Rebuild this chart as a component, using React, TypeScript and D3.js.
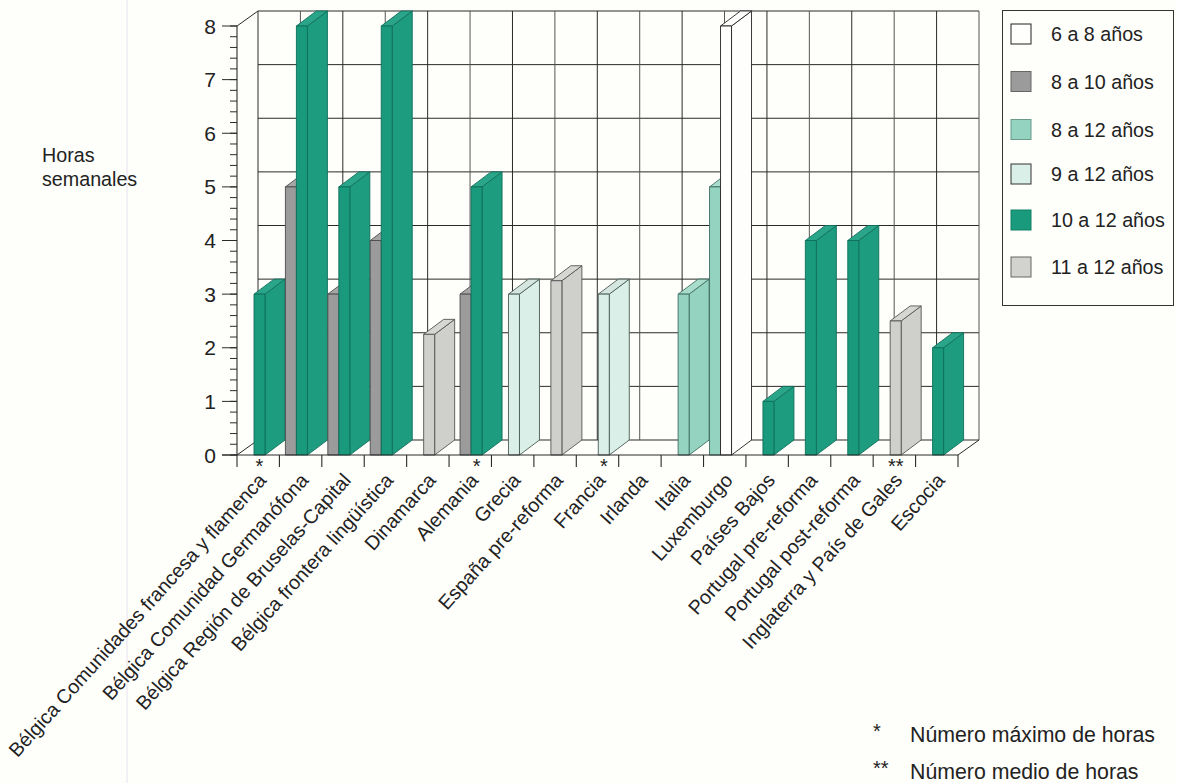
import React from "react";
import * as d3 from "d3";

// Categories along the floor of the chart
const regions = [
  "Bélgica Comunidades francesa y flamenca",
  "Bélgica Comunidad Germanófona",
  "Bélgica Región de Bruselas-Capital",
  "Bélgica frontera lingüística",
  "Dinamarca",
  "Alemania",
  "Grecia",
  "España pre-reforma",
  "Francia",
  "Irlanda",
  "Italia",
  "Luxemburgo",
  "Países Bajos",
  "Portugal pre-reforma",
  "Portugal post-reforma",
  "Inglaterra y País de Gales",
  "Escocia",
];

// Weekly hours per age group; null means the group has no bar in that region
const ages6to8 = [null, null, null, null, null, null, null, null, null, null, null, 8, null, null, null, null, null];
const ages8to10 = [null, 5, 3, 4, null, 3, null, null, null, null, null, null, null, null, null, null, null];
const ages8to12 = [null, null, null, null, null, null, null, null, null, null, 3, 5, null, null, null, null, null];
const ages9to12 = [null, null, null, null, null, null, 3, null, 3, null, null, null, null, null, null, null, null];
const ages10to12 = [3, 8, 5, 8, null, 5, null, null, null, null, null, null, 1, 4, 4, null, 2];
const ages11to12 = [null, null, null, null, 2.25, null, null, 3.25, null, null, null, null, null, null, null, 2.5, null];

const hourTicks = [0, 1, 2, 3, 4, 5, 6, 7, 8];
const minorTicks = d3.range(0, 8.01, 0.2);

// Footnote marks attached to some regions
const footMarks: Record<string, string> = {
  "Bélgica Comunidades francesa y flamenca": "*",
  Alemania: "*",
  Francia: "*",
  "Inglaterra y País de Gales": "**",
};
const footnotes = [
  ["*", "Número máximo de horas"],
  ["**", "Número medio de horas"],
];

type Look = { front: string; side: string; top: string; edge: string };

const series: { label: string; values: (number | null)[]; look: Look; swatch: string; swatchEdge: string }[] = [
  { label: "6 a 8 años", values: ages6to8, look: { front: "#fefefc", side: "#fefefc", top: "#fefefc", edge: "#222222" }, swatch: "#fefefc", swatchEdge: "#222222" },
  { label: "8 a 10 años", values: ages8to10, look: { front: "#9b9b9b", side: "#8f8f8f", top: "#a6a6a6", edge: "#4c4c4c" }, swatch: "#9b9b9b", swatchEdge: "#666666" },
  { label: "8 a 12 años", values: ages8to12, look: { front: "#93d3c0", side: "#93d3c0", top: "#a8dccb", edge: "#3f6e62" }, swatch: "#93d3c0", swatchEdge: "#6a9a8c" },
  { label: "9 a 12 años", values: ages9to12, look: { front: "#d9efe7", side: "#d9efe7", top: "#d4e6df", edge: "#4a5a55" }, swatch: "#d9efe7", swatchEdge: "#333333" },
  { label: "10 a 12 años", values: ages10to12, look: { front: "#199a7c", side: "#1e9c80", top: "#2aa58a", edge: "#0e6f5a" }, swatch: "#199a7c", swatchEdge: "#118066" },
  { label: "11 a 12 años", values: ages11to12, look: { front: "#cfd0cc", side: "#cfd0cc", top: "#d6d7d3", edge: "#555555" }, swatch: "#d2d3cf", swatchEdge: "#666666" },
];

const ink = "#2a2a2a";
const paper = "#fefefb";
const fontFamily = "'Liberation Sans', Arial, sans-serif";
const textSize = 19.7;

// Oblique projection of the chart box
const depthX = 21;
const depthY = -15;

const xBand = d3.scaleBand<string>().domain(regions).range([237, 958]);
const yHours = d3.scaleLinear().domain([0, 8]).range([455, 26]);
const polygon = d3.line<[number, number]>().curve(d3.curveLinearClosed);

// Slots inside a band: one bar sits at the main slot, a companion bar just left of it
const mainSlot = 17;
const companionSlot = 6;
const barWidth = 11;
const shiftedRegions = new Set(["Alemania", "Francia"]);

function Bar({ x, value, look }: { x: number; value: number; look: Look }) {
  const yTop = yHours(value);
  const yBase = yHours(0);
  const right = x + barWidth;
  const line = { stroke: look.edge, strokeWidth: 0.9, strokeLinejoin: "round" as const };
  return (
    <g>
      <path
        d={polygon([[right, yTop], [right + depthX - 1, yTop + depthY], [right + depthX - 1, yBase + depthY], [right, yBase]])!}
        fill={look.side}
        {...line}
      />
      <path
        d={polygon([[x, yTop], [x + depthX - 1, yTop + depthY], [right + depthX - 1, yTop + depthY], [right, yTop]])!}
        fill={look.top}
        {...line}
      />
      <rect x={x} y={yTop} width={barWidth} height={yBase - yTop} fill={look.front} {...line} />
    </g>
  );
}

export default function App() {
  const edges = [...regions.map((r) => xBand(r)!), xBand.range()[1]];
  const [x0, x1] = xBand.range() as [number, number];
  const yBase = yHours(0);
  const yTop = yHours(8);

  return (
    <svg
      width={1177}
      height={783}
      viewBox="0 0 1177 783"
      style={{ position: "absolute", left: 0, top: 0, background: paper }}
      fontFamily={fontFamily}
      fill="#222222"
    >
      {/* Faint vertical fold of the page */}
      <line x1={127} x2={127} y1={0} y2={783} stroke="#e6e2ef" strokeWidth={1} />

      {/* Back wall */}
      {hourTicks.map((h) => (
        <line key={h} x1={x0 + depthX} x2={x1 + depthX} y1={yHours(h) + depthY} y2={yHours(h) + depthY} stroke={ink} strokeWidth={1} />
      ))}
      {edges.map((e, i) => (
        <line key={i} x1={e + depthX} x2={e + depthX} y1={yTop + depthY} y2={yBase + depthY} stroke={i % 2 ? "#555555" : ink} strokeWidth={1} />
      ))}

      {/* Side wall and floor edges */}
      <line x1={x0} x2={x0 + depthX} y1={yTop} y2={yTop + depthY} stroke={ink} />
      <line x1={x0} x2={x0 + depthX} y1={yBase} y2={yBase + depthY} stroke={ink} />
      <line x1={x1} x2={x1 + depthX} y1={yBase} y2={yBase + depthY} stroke={ink} />

      {/* Vertical axis */}
      <line x1={x0} x2={x0} y1={yTop} y2={yBase} stroke={ink} strokeWidth={1.1} />
      {minorTicks.map((h) => (
        <line key={h} x1={x0 - 7} x2={x0} y1={yHours(h)} y2={yHours(h)} stroke={ink} strokeWidth={1} />
      ))}
      {hourTicks.map((h) => (
        <g key={h}>
          <line x1={x0 - 15} x2={x0} y1={yHours(h)} y2={yHours(h)} stroke={ink} strokeWidth={1} />
          <text x={216} y={yHours(h) + 7.5} textAnchor="end" fontSize={21}>
            {h}
          </text>
        </g>
      ))}
      <text x={42} y={162} fontSize={textSize}>Horas</text>
      <text x={42} y={186} fontSize={textSize}>semanales</text>

      {/* Bars, left to right so that nearer bars overlap the depth faces */}
      {regions.map((region, i) => {
        const present = series.filter((s) => s.values[i] !== null);
        const shift = shiftedRegions.has(region) ? 5 : 0;
        const order = [...present].sort((a, b) => (a.values[i]! - b.values[i]!));
        return (
          <g key={region}>
            {order.map((s, k) => (
              <Bar
                key={s.label}
                x={xBand(region)! + shift + (k === order.length - 1 ? mainSlot : companionSlot)}
                value={s.values[i]!}
                look={s.look}
              />
            ))}
          </g>
        );
      })}

      {/* Floor front edge and category ticks */}
      <line x1={x0 - 15} x2={x1} y1={yBase} y2={yBase} stroke={ink} strokeWidth={1.1} />
      {edges.map((e, i) => (
        <line key={i} x1={e} x2={e} y1={yBase} y2={yBase + 12} stroke={ink} strokeWidth={1.1} />
      ))}

      {/* Category labels */}
      {regions.map((region) => {
        const cx = xBand(region)! + xBand.bandwidth() / 2 + 9;
        return (
          <text key={region} transform={`translate(${cx},${yBase + 26}) rotate(-48)`} textAnchor="end" fontSize={textSize}>
            {region}
          </text>
        );
      })}
      {regions.filter((r) => footMarks[r]).map((region) => {
        const shift = shiftedRegions.has(region) ? 5 : 0;
        const cx = xBand(region)! + mainSlot + shift + barWidth / 2;
        return (
          <text key={region} x={cx} y={473} textAnchor="middle" fontSize={20}>
            {footMarks[region]}
          </text>
        );
      })}

      {/* Legend */}
      <rect x={1002.5} y={10.5} width={171} height={295} fill={paper} stroke="#333333" strokeWidth={1} />
      {series.map((s, i) => {
        const rowY = [34, 81.5, 129.5, 174, 220, 267][i];
        return (
          <g key={s.label}>
            <rect x={1011} y={rowY - 10} width={20} height={20} fill={s.swatch} stroke={s.swatchEdge} strokeWidth={1} />
            <text x={1051} y={rowY + 7} fontSize={textSize}>{s.label}</text>
          </g>
        );
      })}

      {/* Footnotes */}
      {footnotes.map(([mark, text], i) => (
        <g key={mark}>
          <text x={873} y={[738, 775][i]} fontSize={20}>{mark}</text>
          <text x={910} y={[742, 779][i]} fontSize={21.3}>{text}</text>
        </g>
      ))}
    </svg>
  );
}
